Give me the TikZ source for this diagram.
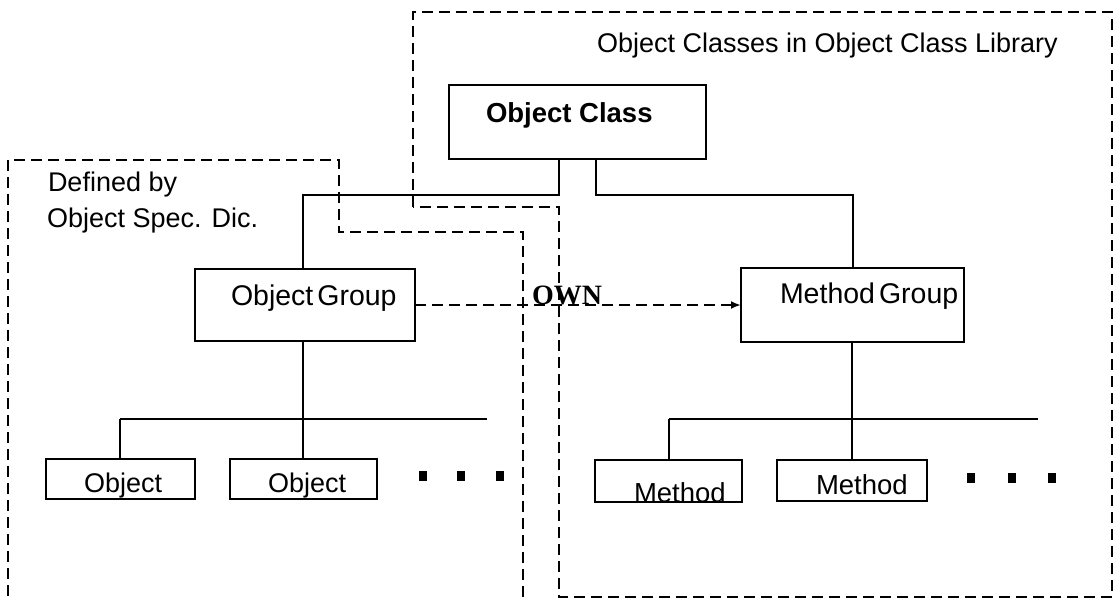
\documentclass[tikz,border=0pt]{standalone}
\usepackage{fontspec}
\setmainfont{Liberation Sans}
\newfontfamily\ownfont{Liberation Serif}
\usetikzlibrary{arrows.meta}
\begin{document}
\begin{tikzpicture}[x=1pt,y=-1pt,
  boxnode/.style={draw, line width=2.2pt, inner sep=0pt, outer sep=0pt, rectangle},
  lbl/.style={inner sep=0pt, outer sep=0pt, anchor=base west, font=\fontsize{27}{32}\selectfont},
  biglbl/.style={lbl, font=\fontsize{28.5}{32}\selectfont},
  conn/.style={line width=2.2pt},
  region/.style={line width=2.2pt, dash pattern=on 11pt off 6pt},
  ownarrow/.style={line width=2.2pt, dash pattern=on 11pt off 6pt, -{Latex[length=10pt,width=8pt]}},
  dotsq/.style={fill=black}]
\useasboundingbox (0,0) rectangle (1120,599);

% dashed regions
\draw[region] (413,207) -- (413,12) -- (1112,12) -- (1112,597) -- (559,597) -- (559,207) -- cycle;
\draw[region] (523,597) -- (523,232) -- (339,232) -- (339,160) -- (8,160) -- (8,597);

% boxes
\node[boxnode, minimum width=257pt, minimum height=74pt] (oc) at (577.5,122) {};
\node[boxnode, minimum width=220pt, minimum height=72pt] (og) at (305,305) {};
\node[boxnode, minimum width=223pt, minimum height=74pt] (mg) at (852.5,305) {};
\node[boxnode, minimum width=149pt, minimum height=40pt] (o1) at (120.5,479) {};
\node[boxnode, minimum width=147pt, minimum height=40pt] (o2) at (303.5,479) {};
\node[boxnode, minimum width=147pt, minimum height=42pt] (m1) at (668.5,481) {};
\node[boxnode, minimum width=150pt, minimum height=41pt] (m2) at (852,480.5) {};

% texts
\node[lbl] (title) at (597,53) {Object Classes in Object Class Library};
\node[lbl, font=\fontsize{27.5}{32}\selectfont\bfseries] (toc) at (486,123) {Object Class};
\node[lbl] (def1) at (48,192) {Defined by};
\node[lbl] (def2) at (47,227) {Object Spec. Dic.};
\node[biglbl] (tog) at (231,305) {Object\hspace{4pt}Group};
\node[biglbl] (tmg) at (780,303) {Method\hspace{4pt}Group};
\node[lbl] (to1) at (84,492) {Object};
\node[lbl] (to2) at (268,492) {Object};
\node[lbl, font=\fontsize{27.5}{32}\selectfont] (tm1) at (634,502) {Method};
\node[lbl, font=\fontsize{27.5}{32}\selectfont] (tm2) at (816,494) {Method};
\node[lbl, font=\fontsize{28}{32}\ownfont\bfseries] (own) at (532,304) {OWN};

% connector points
\coordinate (c1) at (559,195);
\coordinate (c2) at (303,195);
\coordinate (c3) at (596,195);
\coordinate (c4) at (853,195);
\coordinate (c5) at (120,419);
\coordinate (c6) at (487,419);
\coordinate (c7) at (852,419);
\coordinate (c8) at (669,419);
\coordinate (c9) at (1038,419);

% connectors
\draw[conn] (oc.south -| c1) -- (c1) -- (c2) -- (og.north -| c2);
\draw[conn] (oc.south -| c3) -- (c3) -- (c4) -- (mg.north -| c4);
\draw[conn] (og.south -| c2) -- (o2.north -| c2);
\draw[conn] (c5) -- (c6);
\draw[conn] (c5) -- (o1.north -| c5);
\draw[conn] (mg.south -| c7) -- (m2.north -| c7);
\draw[conn] (c8) -- (c9);
\draw[conn] (c8) -- (m1.north -| c8);

% OWN arrow
\draw[ownarrow] (og.east) -- (mg.west);

% ellipsis dots
\fill[dotsq] (419,471) rectangle ++(8,10);
\fill[dotsq] (457,471) rectangle ++(8,10);
\fill[dotsq] (496,471) rectangle ++(8,10);
\fill[dotsq] (967,473) rectangle ++(8,10);
\fill[dotsq] (1008,473) rectangle ++(8,10);
\fill[dotsq] (1048,473) rectangle ++(8,10);
\end{tikzpicture}
\end{document}
